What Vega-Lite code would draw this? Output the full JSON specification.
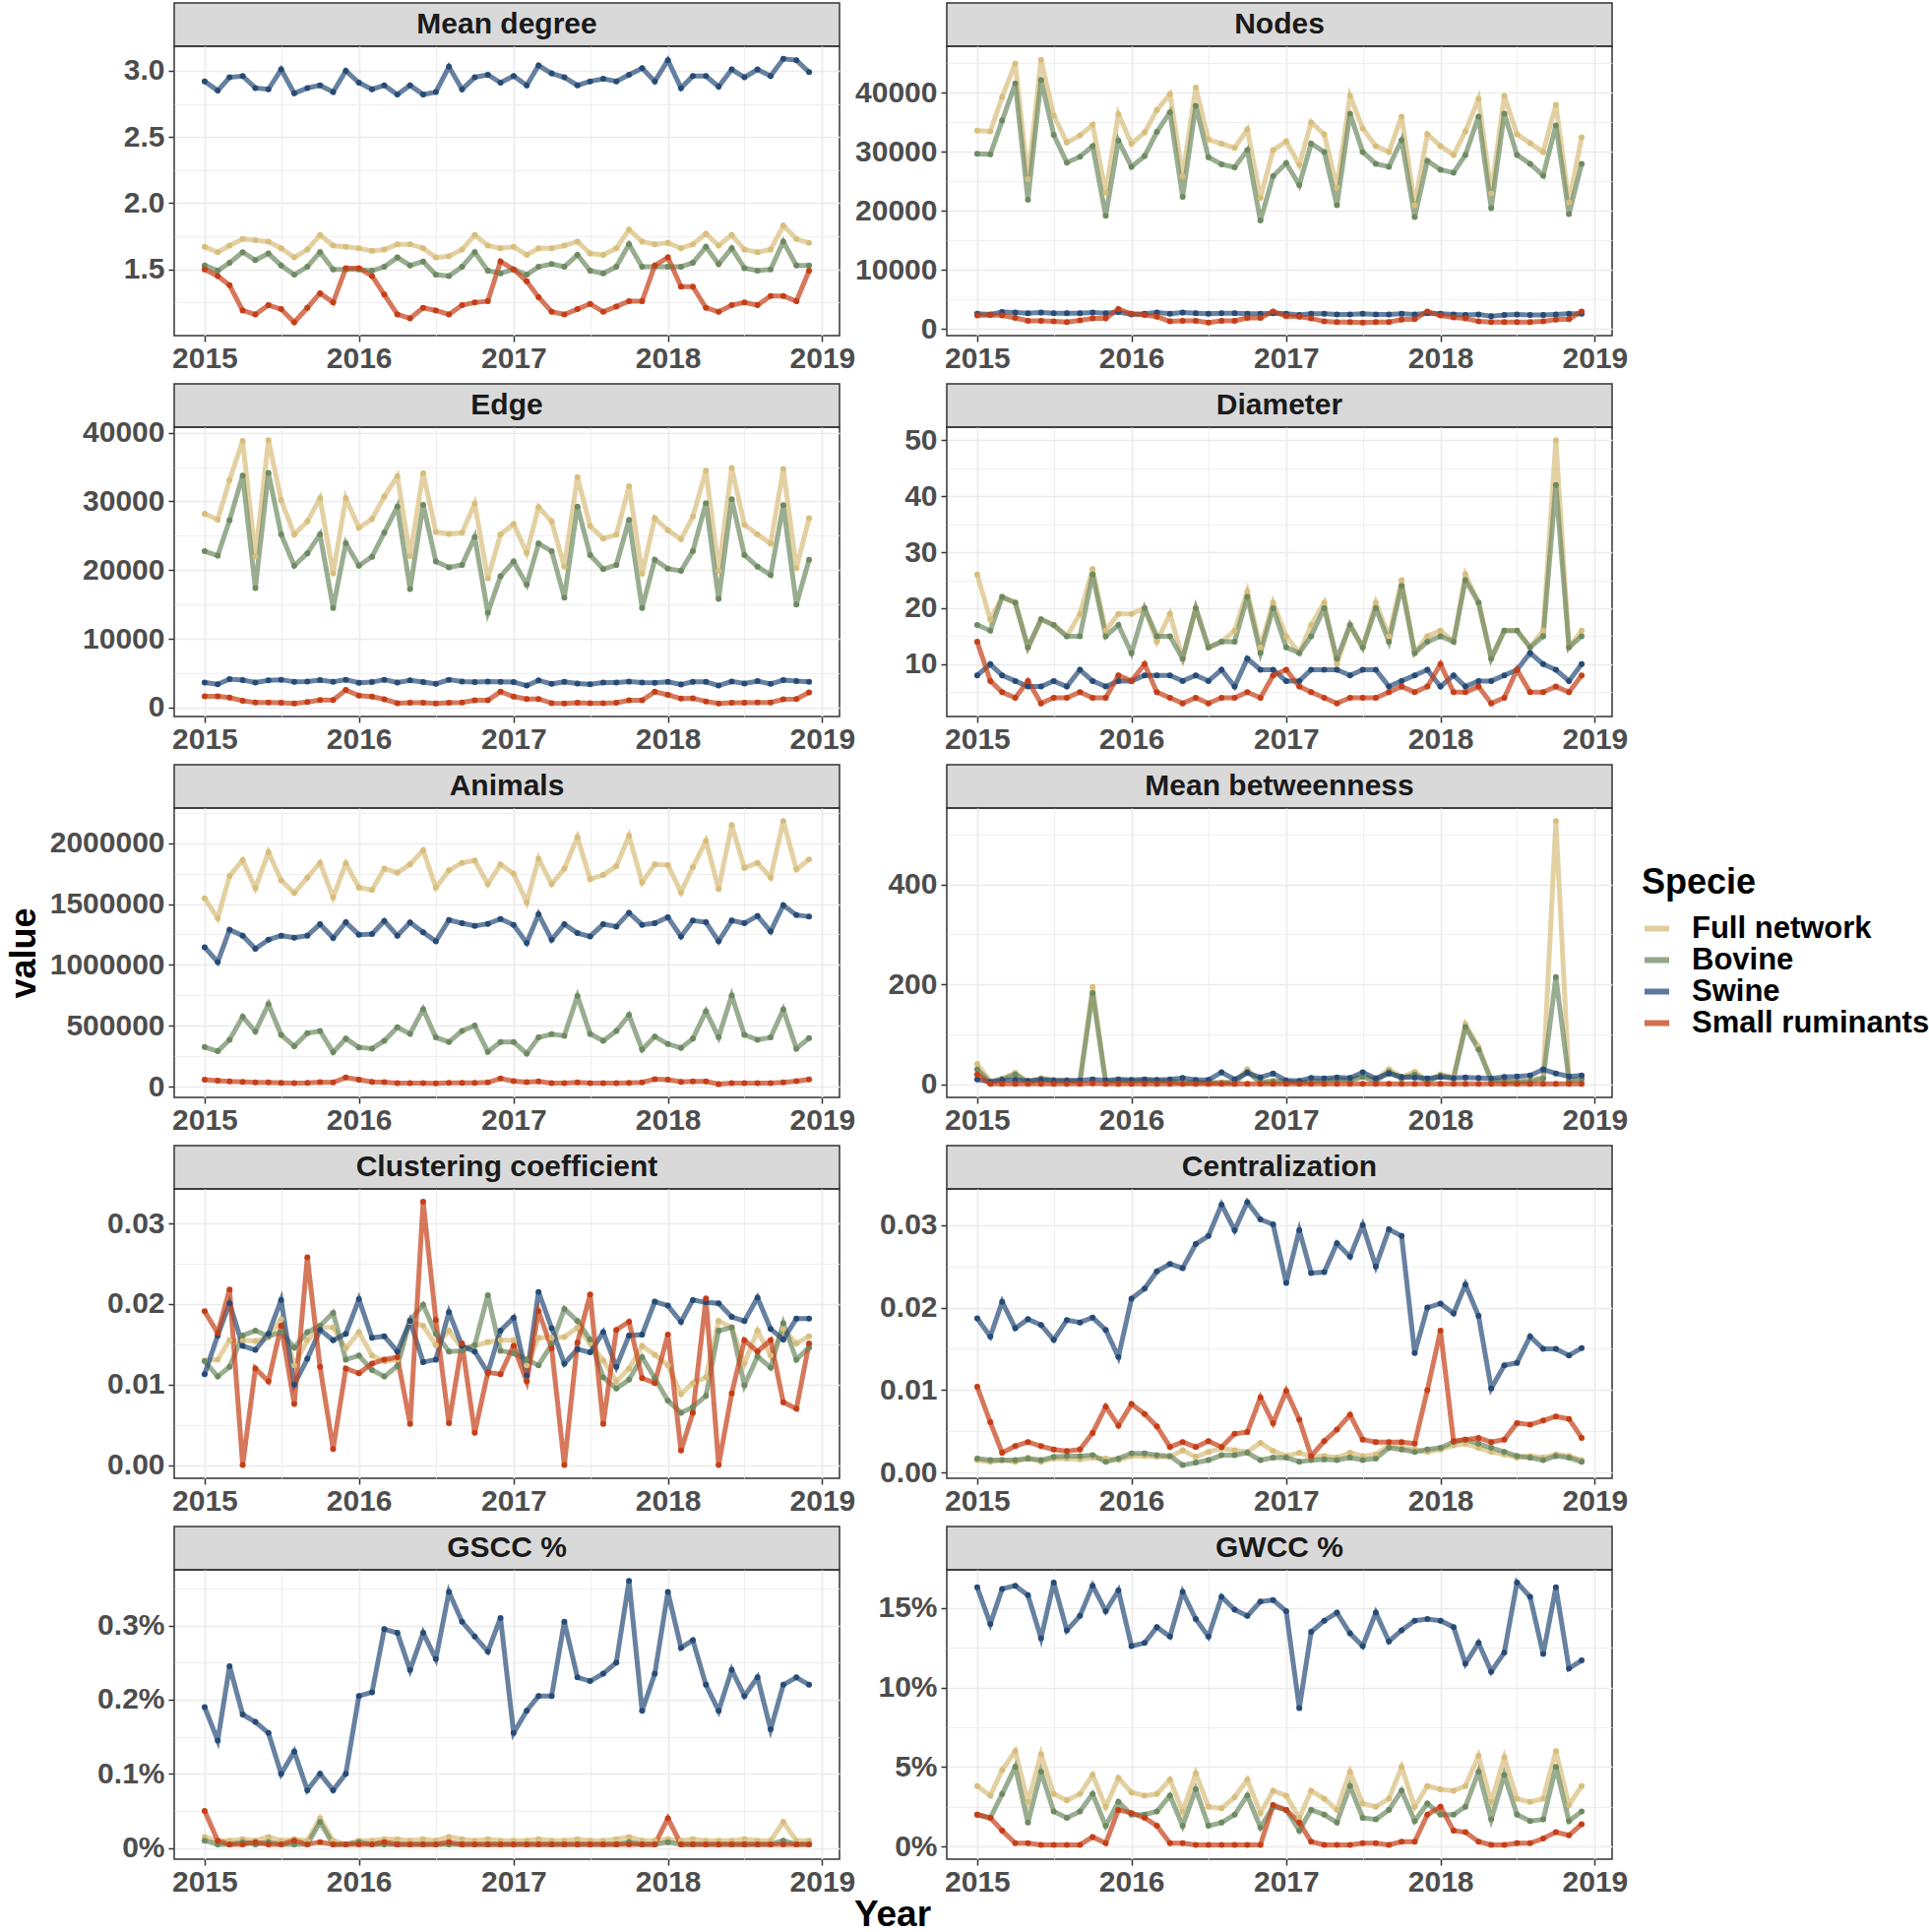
{
"$schema":"https://vega.github.io/schema/vega-lite/v6.json",
"background":"white",
"padding":{"left":5,"top":2,"right":5,"bottom":0},
"config":{
 "font":"Liberation Sans",
 "view":{"stroke":"#333333","strokeWidth":1.5},
 "axis":{"labelFont":"Liberation Sans","labelFontWeight":"bold","labelFontSize":30,"labelColor":"#4d4d4d","labelPadding":4,"labelOverlap":false,"labelFlush":false,"tickColor":"#333333","tickWidth":1.5,"tickSize":6,"domain":false,"gridColor":"#ebebeb","titleFont":"Liberation Sans","titleFontWeight":"bold","titleFontSize":36,"titleColor":"#000000"},
 "legend":{"titleFont":"Liberation Sans","titleFontSize":36,"titleFontWeight":"bold","titleColor":"#000000","labelFont":"Liberation Sans","labelFontSize":31,"labelFontWeight":"bold","labelColor":"#000000","labelLimit":400,"symbolType":"stroke","symbolStrokeWidth":6,"symbolSize":625,"symbolOpacity":0.75,"rowPadding":0,"titlePadding":12,"labelOffset":20}
},
"title":{"text":"Year","orient":"bottom","anchor":"middle","frame":"group","dx":730,"offset":0,"fontSize":37,"font":"Liberation Sans","fontWeight":"bold","color":"#000000"},
"datasets":{
"md":[
{"d":"2015-01","F":1.67,"B":1.53,"S":2.92,"R":1.50},{"d":"2015-02","F":1.63,"B":1.49,"S":2.85,"R":1.45},{"d":"2015-03","F":1.68,"B":1.55,"S":2.95,"R":1.38},{"d":"2015-04","F":1.73,"B":1.63,"S":2.96,"R":1.19},{"d":"2015-05","F":1.72,"B":1.57,"S":2.87,"R":1.16},{"d":"2015-06","F":1.71,"B":1.62,"S":2.86,"R":1.23},{"d":"2015-07","F":1.66,"B":1.53,"S":3.01,"R":1.20},{"d":"2015-08","F":1.59,"B":1.46,"S":2.83,"R":1.10},{"d":"2015-09","F":1.65,"B":1.52,"S":2.87,"R":1.21},{"d":"2015-10","F":1.76,"B":1.63,"S":2.89,"R":1.32},{"d":"2015-11","F":1.68,"B":1.50,"S":2.84,"R":1.25},{"d":"2015-12","F":1.67,"B":1.50,"S":3.00,"R":1.51},
{"d":"2016-01","F":1.66,"B":1.50,"S":2.91,"R":1.51},{"d":"2016-02","F":1.64,"B":1.49,"S":2.86,"R":1.45},{"d":"2016-03","F":1.65,"B":1.52,"S":2.89,"R":1.31},{"d":"2016-04","F":1.69,"B":1.59,"S":2.82,"R":1.16},{"d":"2016-05","F":1.69,"B":1.53,"S":2.89,"R":1.13},{"d":"2016-06","F":1.66,"B":1.56,"S":2.82,"R":1.21},{"d":"2016-07","F":1.59,"B":1.46,"S":2.84,"R":1.19},{"d":"2016-08","F":1.60,"B":1.45,"S":3.03,"R":1.16},{"d":"2016-09","F":1.65,"B":1.52,"S":2.86,"R":1.23},{"d":"2016-10","F":1.76,"B":1.63,"S":2.95,"R":1.25},{"d":"2016-11","F":1.68,"B":1.49,"S":2.97,"R":1.26},{"d":"2016-12","F":1.66,"B":1.47,"S":2.91,"R":1.56},
{"d":"2017-01","F":1.67,"B":1.50,"S":2.96,"R":1.50},{"d":"2017-02","F":1.61,"B":1.46,"S":2.89,"R":1.41},{"d":"2017-03","F":1.66,"B":1.52,"S":3.04,"R":1.29},{"d":"2017-04","F":1.66,"B":1.54,"S":2.98,"R":1.18},{"d":"2017-05","F":1.68,"B":1.52,"S":2.95,"R":1.16},{"d":"2017-06","F":1.71,"B":1.61,"S":2.89,"R":1.20},{"d":"2017-07","F":1.62,"B":1.49,"S":2.92,"R":1.24},{"d":"2017-08","F":1.61,"B":1.47,"S":2.94,"R":1.18},{"d":"2017-09","F":1.66,"B":1.52,"S":2.92,"R":1.22},{"d":"2017-10","F":1.80,"B":1.69,"S":2.97,"R":1.26},{"d":"2017-11","F":1.71,"B":1.52,"S":3.02,"R":1.26},{"d":"2017-12","F":1.69,"B":1.52,"S":2.92,"R":1.53},
{"d":"2018-01","F":1.70,"B":1.52,"S":3.08,"R":1.59},{"d":"2018-02","F":1.66,"B":1.52,"S":2.87,"R":1.37},{"d":"2018-03","F":1.69,"B":1.55,"S":2.96,"R":1.37},{"d":"2018-04","F":1.77,"B":1.67,"S":2.96,"R":1.21},{"d":"2018-05","F":1.68,"B":1.54,"S":2.88,"R":1.18},{"d":"2018-06","F":1.76,"B":1.66,"S":3.01,"R":1.23},{"d":"2018-07","F":1.65,"B":1.51,"S":2.95,"R":1.25},{"d":"2018-08","F":1.63,"B":1.49,"S":3.01,"R":1.23},{"d":"2018-09","F":1.65,"B":1.50,"S":2.96,"R":1.30},{"d":"2018-10","F":1.83,"B":1.71,"S":3.09,"R":1.30},{"d":"2018-11","F":1.73,"B":1.53,"S":3.08,"R":1.26},{"d":"2018-12","F":1.70,"B":1.53,"S":2.99,"R":1.49}
],
"nodes":[
{"d":"2015-01","F":33600,"B":29700,"S":2600,"R":2300},{"d":"2015-02","F":33500,"B":29600,"S":2500,"R":2400},{"d":"2015-03","F":39300,"B":35300,"S":2900,"R":2300},{"d":"2015-04","F":45000,"B":41600,"S":2800,"R":1900},{"d":"2015-05","F":25400,"B":21900,"S":2700,"R":1400},{"d":"2015-06","F":45600,"B":42200,"S":2800,"R":1400},{"d":"2015-07","F":36200,"B":32900,"S":2700,"R":1300},{"d":"2015-08","F":31600,"B":28200,"S":2700,"R":1200},{"d":"2015-09","F":32800,"B":29200,"S":2700,"R":1500},{"d":"2015-10","F":34600,"B":31000,"S":2800,"R":1800},{"d":"2015-11","F":23100,"B":19200,"S":2700,"R":1800},{"d":"2015-12","F":36400,"B":31900,"S":2900,"R":3400},
{"d":"2016-01","F":31400,"B":27500,"S":2500,"R":2600},{"d":"2016-02","F":33300,"B":29300,"S":2600,"R":2400},{"d":"2016-03","F":37100,"B":33400,"S":2800,"R":2100},{"d":"2016-04","F":39800,"B":36700,"S":2600,"R":1300},{"d":"2016-05","F":25900,"B":22400,"S":2800,"R":1400},{"d":"2016-06","F":40900,"B":37800,"S":2700,"R":1400},{"d":"2016-07","F":32100,"B":29100,"S":2600,"R":1100},{"d":"2016-08","F":31400,"B":27900,"S":2700,"R":1400},{"d":"2016-09","F":30700,"B":27400,"S":2700,"R":1400},{"d":"2016-10","F":33800,"B":30300,"S":2600,"R":1900},{"d":"2016-11","F":22200,"B":18400,"S":2600,"R":1900},{"d":"2016-12","F":30300,"B":25900,"S":2700,"R":3000},
{"d":"2017-01","F":31800,"B":28100,"S":2600,"R":2200},{"d":"2017-02","F":27800,"B":24400,"S":2400,"R":2100},{"d":"2017-03","F":35000,"B":31400,"S":2600,"R":1800},{"d":"2017-04","F":33000,"B":30000,"S":2600,"R":1300},{"d":"2017-05","F":24000,"B":21000,"S":2500,"R":1200},{"d":"2017-06","F":39500,"B":36500,"S":2500,"R":1200},{"d":"2017-07","F":34000,"B":30000,"S":2600,"R":1100},{"d":"2017-08","F":31000,"B":28000,"S":2500,"R":1200},{"d":"2017-09","F":30000,"B":27500,"S":2500,"R":1200},{"d":"2017-10","F":36000,"B":32000,"S":2600,"R":1600},{"d":"2017-11","F":21000,"B":19000,"S":2500,"R":1700},{"d":"2017-12","F":33000,"B":28500,"S":2700,"R":3000},
{"d":"2018-01","F":31000,"B":27000,"S":2600,"R":2300},{"d":"2018-02","F":29500,"B":26500,"S":2500,"R":2000},{"d":"2018-03","F":33500,"B":29500,"S":2400,"R":1800},{"d":"2018-04","F":39000,"B":36000,"S":2500,"R":1300},{"d":"2018-05","F":23000,"B":20500,"S":2200,"R":1200},{"d":"2018-06","F":39500,"B":36500,"S":2400,"R":1200},{"d":"2018-07","F":33000,"B":29500,"S":2500,"R":1200},{"d":"2018-08","F":31500,"B":28000,"S":2400,"R":1200},{"d":"2018-09","F":30000,"B":26000,"S":2400,"R":1300},{"d":"2018-10","F":38000,"B":34500,"S":2500,"R":1600},{"d":"2018-11","F":21500,"B":19500,"S":2600,"R":1700},{"d":"2018-12","F":32500,"B":28000,"S":2600,"R":3000}
],
"edge":[
{"d":"2015-01","F":28200,"B":22750,"S":3650,"R":1650},{"d":"2015-02","F":27350,"B":22100,"S":3400,"R":1650},{"d":"2015-03","F":33100,"B":27250,"S":4150,"R":1450},{"d":"2015-04","F":38800,"B":33750,"S":4000,"R":1000},{"d":"2015-05","F":22000,"B":17400,"S":3650,"R":750},{"d":"2015-06","F":38900,"B":34150,"S":3950,"R":750},{"d":"2015-07","F":30200,"B":25200,"S":4050,"R":700},{"d":"2015-08","F":25200,"B":20650,"S":3750,"R":600},{"d":"2015-09","F":27100,"B":22450,"S":3800,"R":800},{"d":"2015-10","F":30450,"B":25200,"S":4000,"R":1100},{"d":"2015-11","F":19500,"B":14500,"S":3750,"R":1100},{"d":"2015-12","F":30450,"B":23900,"S":4050,"R":2550},
{"d":"2016-01","F":26150,"B":20650,"S":3600,"R":1750},{"d":"2016-02","F":27450,"B":21950,"S":3700,"R":1600},{"d":"2016-03","F":30700,"B":25450,"S":4050,"R":1200},{"d":"2016-04","F":33650,"B":29250,"S":3650,"R":650},{"d":"2016-05","F":22050,"B":17250,"S":3950,"R":700},{"d":"2016-06","F":34100,"B":29500,"S":3700,"R":700},{"d":"2016-07","F":25550,"B":21250,"S":3450,"R":600},{"d":"2016-08","F":25250,"B":20400,"S":4050,"R":700},{"d":"2016-09","F":25450,"B":20750,"S":3800,"R":750},{"d":"2016-10","F":29650,"B":24800,"S":3700,"R":1050},{"d":"2016-11","F":18800,"B":13800,"S":3800,"R":1050},{"d":"2016-12","F":25200,"B":19100,"S":3750,"R":2300},
{"d":"2017-01","F":26700,"B":21250,"S":3700,"R":1600},{"d":"2017-02","F":22500,"B":17900,"S":3200,"R":1250},{"d":"2017-03","F":29150,"B":23850,"S":3950,"R":1250},{"d":"2017-04","F":27100,"B":22750,"S":3450,"R":650},{"d":"2017-05","F":20500,"B":16000,"S":3750,"R":600},{"d":"2017-06","F":33550,"B":29250,"S":3500,"R":700},{"d":"2017-07","F":26400,"B":22200,"S":3400,"R":650},{"d":"2017-08","F":24600,"B":20150,"S":3650,"R":650},{"d":"2017-09","F":25150,"B":20750,"S":3650,"R":700},{"d":"2017-10","F":32200,"B":27300,"S":3800,"R":1050},{"d":"2017-11","F":19450,"B":14500,"S":3650,"R":1050},{"d":"2017-12","F":27550,"B":21500,"S":3600,"R":2300},
{"d":"2018-01","F":25800,"B":20200,"S":3750,"R":1850},{"d":"2018-02","F":24500,"B":19900,"S":3350,"R":1300},{"d":"2018-03","F":27800,"B":22750,"S":3750,"R":1350},{"d":"2018-04","F":34450,"B":29750,"S":3750,"R":900},{"d":"2018-05","F":19900,"B":15800,"S":3200,"R":600},{"d":"2018-06","F":34850,"B":30300,"S":3800,"R":700},{"d":"2018-07","F":26600,"B":22200,"S":3500,"R":700},{"d":"2018-08","F":25200,"B":20500,"S":3850,"R":750},{"d":"2018-09","F":23850,"B":19300,"S":3450,"R":750},{"d":"2018-10","F":34700,"B":29450,"S":4000,"R":1200},{"d":"2018-11","F":20300,"B":15000,"S":3850,"R":1250},{"d":"2018-12","F":27550,"B":21500,"S":3750,"R":2200}
],
"diam":[
{"d":"2015-01","F":26,"B":17,"S":8,"R":14},{"d":"2015-02","F":18,"B":16,"S":10,"R":7},{"d":"2015-03","F":22,"B":22,"S":8,"R":5},{"d":"2015-04","F":21,"B":21,"S":7,"R":4},{"d":"2015-05","F":13,"B":13,"S":6,"R":7},{"d":"2015-06","F":18,"B":18,"S":6,"R":3},{"d":"2015-07","F":17,"B":17,"S":7,"R":4},{"d":"2015-08","F":15,"B":15,"S":6,"R":4},{"d":"2015-09","F":19,"B":15,"S":9,"R":5},{"d":"2015-10","F":27,"B":26,"S":7,"R":4},{"d":"2015-11","F":16,"B":15,"S":6,"R":4},{"d":"2015-12","F":19,"B":17,"S":7,"R":8},
{"d":"2016-01","F":19,"B":12,"S":7,"R":7},{"d":"2016-02","F":20,"B":20,"S":8,"R":10},{"d":"2016-03","F":14,"B":15,"S":8,"R":5},{"d":"2016-04","F":19,"B":15,"S":8,"R":4},{"d":"2016-05","F":11,"B":11,"S":7,"R":3},{"d":"2016-06","F":20,"B":20,"S":8,"R":4},{"d":"2016-07","F":13,"B":13,"S":7,"R":3},{"d":"2016-08","F":14,"B":14,"S":9,"R":4},{"d":"2016-09","F":16,"B":14,"S":6,"R":4},{"d":"2016-10","F":23,"B":22,"S":11,"R":5},{"d":"2016-11","F":13,"B":12,"S":9,"R":4},{"d":"2016-12","F":21,"B":20,"S":9,"R":8},
{"d":"2017-01","F":15,"B":13,"S":7,"R":9},{"d":"2017-02","F":12,"B":12,"S":7,"R":6},{"d":"2017-03","F":17,"B":15,"S":9,"R":5},{"d":"2017-04","F":21,"B":20,"S":9,"R":4},{"d":"2017-05","F":10,"B":11,"S":9,"R":3},{"d":"2017-06","F":17,"B":17,"S":8,"R":4},{"d":"2017-07","F":13,"B":13,"S":9,"R":4},{"d":"2017-08","F":21,"B":20,"S":9,"R":4},{"d":"2017-09","F":15,"B":14,"S":6,"R":5},{"d":"2017-10","F":25,"B":24,"S":7,"R":6},{"d":"2017-11","F":12,"B":12,"S":8,"R":5},{"d":"2017-12","F":15,"B":14,"S":9,"R":6},
{"d":"2018-01","F":16,"B":15,"S":6,"R":10},{"d":"2018-02","F":14,"B":14,"S":8,"R":5},{"d":"2018-03","F":26,"B":25,"S":6,"R":5},{"d":"2018-04","F":21,"B":21,"S":7,"R":6},{"d":"2018-05","F":11,"B":11,"S":7,"R":3},{"d":"2018-06","F":16,"B":16,"S":8,"R":4},{"d":"2018-07","F":16,"B":16,"S":9,"R":9},{"d":"2018-08","F":13,"B":13,"S":12,"R":5},{"d":"2018-09","F":16,"B":15,"S":10,"R":5},{"d":"2018-10","F":50,"B":42,"S":9,"R":6},{"d":"2018-11","F":13,"B":13,"S":7,"R":5},{"d":"2018-12","F":16,"B":15,"S":10,"R":8}
],
"animals":[
{"d":"2015-01","F":1547000,"B":326000,"S":1145000,"R":57000},{"d":"2015-02","F":1383000,"B":291000,"S":1024000,"R":49000},{"d":"2015-03","F":1730000,"B":385000,"S":1288000,"R":43000},{"d":"2015-04","F":1860000,"B":574000,"S":1240000,"R":40000},{"d":"2015-05","F":1631000,"B":453000,"S":1132000,"R":35000},{"d":"2015-06","F":1925000,"B":677000,"S":1207000,"R":35000},{"d":"2015-07","F":1695000,"B":426000,"S":1240000,"R":32000},{"d":"2015-08","F":1590000,"B":332000,"S":1224000,"R":30000},{"d":"2015-09","F":1717000,"B":439000,"S":1240000,"R":32000},{"d":"2015-10","F":1838000,"B":458000,"S":1334000,"R":38000},{"d":"2015-11","F":1555000,"B":283000,"S":1221000,"R":35000},{"d":"2015-12","F":1833000,"B":394000,"S":1350000,"R":75000},
{"d":"2016-01","F":1636000,"B":323000,"S":1248000,"R":57000},{"d":"2016-02","F":1615000,"B":313000,"S":1253000,"R":40000},{"d":"2016-03","F":1790000,"B":377000,"S":1361000,"R":38000},{"d":"2016-04","F":1757000,"B":488000,"S":1240000,"R":30000},{"d":"2016-05","F":1825000,"B":434000,"S":1348000,"R":30000},{"d":"2016-06","F":1941000,"B":636000,"S":1267000,"R":30000},{"d":"2016-07","F":1636000,"B":404000,"S":1194000,"R":27000},{"d":"2016-08","F":1776000,"B":367000,"S":1369000,"R":32000},{"d":"2016-09","F":1838000,"B":458000,"S":1342000,"R":32000},{"d":"2016-10","F":1857000,"B":501000,"S":1321000,"R":32000},{"d":"2016-11","F":1663000,"B":286000,"S":1337000,"R":35000},{"d":"2016-12","F":1825000,"B":367000,"S":1377000,"R":67000},
{"d":"2017-01","F":1749000,"B":367000,"S":1329000,"R":46000},{"d":"2017-02","F":1515000,"B":272000,"S":1181000,"R":38000},{"d":"2017-03","F":1871000,"B":404000,"S":1415000,"R":43000},{"d":"2017-04","F":1663000,"B":431000,"S":1207000,"R":30000},{"d":"2017-05","F":1790000,"B":418000,"S":1334000,"R":30000},{"d":"2017-06","F":2049000,"B":744000,"S":1261000,"R":35000},{"d":"2017-07","F":1704000,"B":434000,"S":1234000,"R":30000},{"d":"2017-08","F":1739000,"B":377000,"S":1334000,"R":30000},{"d":"2017-09","F":1811000,"B":458000,"S":1315000,"R":30000},{"d":"2017-10","F":2059000,"B":588000,"S":1428000,"R":32000},{"d":"2017-11","F":1677000,"B":305000,"S":1329000,"R":35000},{"d":"2017-12","F":1825000,"B":412000,"S":1342000,"R":62000},
{"d":"2018-01","F":1819000,"B":350000,"S":1391000,"R":57000},{"d":"2018-02","F":1596000,"B":318000,"S":1234000,"R":40000},{"d":"2018-03","F":1803000,"B":394000,"S":1364000,"R":43000},{"d":"2018-04","F":2019000,"B":620000,"S":1350000,"R":43000},{"d":"2018-05","F":1623000,"B":407000,"S":1194000,"R":22000},{"d":"2018-06","F":2148000,"B":749000,"S":1364000,"R":30000},{"d":"2018-07","F":1798000,"B":426000,"S":1342000,"R":30000},{"d":"2018-08","F":1838000,"B":385000,"S":1402000,"R":30000},{"d":"2018-09","F":1717000,"B":404000,"S":1275000,"R":30000},{"d":"2018-10","F":2181000,"B":633000,"S":1490000,"R":35000},{"d":"2018-11","F":1784000,"B":313000,"S":1410000,"R":46000},{"d":"2018-12","F":1865000,"B":399000,"S":1396000,"R":59000}
],
"mb":[
{"d":"2015-01","F":41,"B":30,"S":10,"R":20},{"d":"2015-02","F":5,"B":4,"S":5,"R":1},{"d":"2015-03","F":12,"B":10,"S":9,"R":1},{"d":"2015-04","F":23,"B":20,"S":9,"R":1},{"d":"2015-05","F":5,"B":4,"S":7,"R":1},{"d":"2015-06","F":13,"B":10,"S":10,"R":1},{"d":"2015-07","F":9,"B":7,"S":8,"R":1},{"d":"2015-08","F":8,"B":6,"S":8,"R":1},{"d":"2015-09","F":7,"B":6,"S":8,"R":1},{"d":"2015-10","F":195,"B":183,"S":10,"R":2},{"d":"2015-11","F":5,"B":4,"S":8,"R":1},{"d":"2015-12","F":10,"B":8,"S":10,"R":1},
{"d":"2016-01","F":7,"B":6,"S":9,"R":1},{"d":"2016-02","F":10,"B":8,"S":10,"R":1},{"d":"2016-03","F":8,"B":6,"S":9,"R":1},{"d":"2016-04","F":8,"B":7,"S":10,"R":1},{"d":"2016-05","F":3,"B":2,"S":13,"R":1},{"d":"2016-06","F":5,"B":4,"S":9,"R":1},{"d":"2016-07","F":4,"B":3,"S":9,"R":1},{"d":"2016-08","F":4,"B":3,"S":24,"R":1},{"d":"2016-09","F":5,"B":4,"S":10,"R":1},{"d":"2016-10","F":30,"B":25,"S":23,"R":1},{"d":"2016-11","F":5,"B":4,"S":14,"R":1},{"d":"2016-12","F":7,"B":6,"S":22,"R":1},
{"d":"2017-01","F":8,"B":6,"S":8,"R":1},{"d":"2017-02","F":4,"B":3,"S":7,"R":1},{"d":"2017-03","F":7,"B":6,"S":13,"R":1},{"d":"2017-04","F":8,"B":7,"S":12,"R":1},{"d":"2017-05","F":12,"B":10,"S":14,"R":1},{"d":"2017-06","F":10,"B":8,"S":13,"R":1},{"d":"2017-07","F":18,"B":15,"S":24,"R":1},{"d":"2017-08","F":9,"B":7,"S":12,"R":1},{"d":"2017-09","F":30,"B":25,"S":22,"R":1},{"d":"2017-10","F":15,"B":12,"S":15,"R":1},{"d":"2017-11","F":25,"B":20,"S":14,"R":1},{"d":"2017-12","F":8,"B":6,"S":12,"R":1},
{"d":"2018-01","F":20,"B":18,"S":15,"R":1},{"d":"2018-02","F":15,"B":12,"S":13,"R":1},{"d":"2018-03","F":120,"B":115,"S":14,"R":1},{"d":"2018-04","F":75,"B":70,"S":13,"R":1},{"d":"2018-05","F":10,"B":8,"S":12,"R":1},{"d":"2018-06","F":8,"B":6,"S":15,"R":1},{"d":"2018-07","F":6,"B":5,"S":16,"R":1},{"d":"2018-08","F":8,"B":6,"S":18,"R":1},{"d":"2018-09","F":15,"B":12,"S":30,"R":1},{"d":"2018-10","F":527,"B":215,"S":22,"R":1},{"d":"2018-11","F":10,"B":8,"S":16,"R":1},{"d":"2018-12","F":12,"B":10,"S":18,"R":1}
],
"cc":[
{"d":"2015-01","F":0.0130,"B":0.0129,"S":0.0113,"R":0.0191},{"d":"2015-02","F":0.0131,"B":0.0110,"S":0.0161,"R":0.0164},{"d":"2015-03","F":0.0155,"B":0.0122,"S":0.0201,"R":0.0218},{"d":"2015-04","F":0.0155,"B":0.0161,"S":0.0148,"R":0.0000},{"d":"2015-05","F":0.0154,"B":0.0167,"S":0.0143,"R":0.0120},{"d":"2015-06","F":0.0159,"B":0.0160,"S":0.0163,"R":0.0104},{"d":"2015-07","F":0.0181,"B":0.0165,"S":0.0205,"R":0.0173},{"d":"2015-08","F":0.0124,"B":0.0146,"S":0.0100,"R":0.0076},{"d":"2015-09","F":0.0155,"B":0.0165,"S":0.0132,"R":0.0258},{"d":"2015-10","F":0.0171,"B":0.0173,"S":0.0168,"R":0.0122},{"d":"2015-11","F":0.0171,"B":0.0189,"S":0.0155,"R":0.0020},{"d":"2015-12","F":0.0145,"B":0.0131,"S":0.0163,"R":0.0120},
{"d":"2016-01","F":0.0165,"B":0.0136,"S":0.0206,"R":0.0114},{"d":"2016-02","F":0.0136,"B":0.0118,"S":0.0158,"R":0.0126},{"d":"2016-03","F":0.0129,"B":0.0110,"S":0.0160,"R":0.0131},{"d":"2016-04","F":0.0131,"B":0.0123,"S":0.0141,"R":0.0134},{"d":"2016-05","F":0.0178,"B":0.0180,"S":0.0179,"R":0.0051},{"d":"2016-06","F":0.0173,"B":0.0199,"S":0.0128,"R":0.0327},{"d":"2016-07","F":0.0149,"B":0.0163,"S":0.0131,"R":0.0180},{"d":"2016-08","F":0.0167,"B":0.0141,"S":0.0190,"R":0.0052},{"d":"2016-09","F":0.0145,"B":0.0142,"S":0.0148,"R":0.0151},{"d":"2016-10","F":0.0148,"B":0.0149,"S":0.0141,"R":0.0040},{"d":"2016-11","F":0.0153,"B":0.0211,"S":0.0115,"R":0.0115},{"d":"2016-12","F":0.0155,"B":0.0142,"S":0.0167,"R":0.0113},
{"d":"2017-01","F":0.0155,"B":0.0139,"S":0.0183,"R":0.0148},{"d":"2017-02","F":0.0124,"B":0.0131,"S":0.0111,"R":0.0104},{"d":"2017-03","F":0.0158,"B":0.0124,"S":0.0215,"R":0.0191},{"d":"2017-04","F":0.0158,"B":0.0150,"S":0.0170,"R":0.0145},{"d":"2017-05","F":0.0159,"B":0.0194,"S":0.0126,"R":0.0000},{"d":"2017-06","F":0.0171,"B":0.0179,"S":0.0144,"R":0.0152},{"d":"2017-07","F":0.0151,"B":0.0156,"S":0.0140,"R":0.0212},{"d":"2017-08","F":0.0130,"B":0.0109,"S":0.0165,"R":0.0051},{"d":"2017-09","F":0.0104,"B":0.0095,"S":0.0122,"R":0.0168},{"d":"2017-10","F":0.0120,"B":0.0106,"S":0.0161,"R":0.0178},{"d":"2017-11","F":0.0148,"B":0.0134,"S":0.0162,"R":0.0108},{"d":"2017-12","F":0.0137,"B":0.0108,"S":0.0203,"R":0.0102},
{"d":"2018-01","F":0.0124,"B":0.0080,"S":0.0198,"R":0.0162},{"d":"2018-02","F":0.0088,"B":0.0065,"S":0.0178,"R":0.0018},{"d":"2018-03","F":0.0102,"B":0.0072,"S":0.0205,"R":0.0065},{"d":"2018-04","F":0.0109,"B":0.0086,"S":0.0202,"R":0.0207},{"d":"2018-05","F":0.0179,"B":0.0167,"S":0.0201,"R":0.0000},{"d":"2018-06","F":0.0171,"B":0.0171,"S":0.0184,"R":0.0089},{"d":"2018-07","F":0.0126,"B":0.0099,"S":0.0179,"R":0.0155},{"d":"2018-08","F":0.0167,"B":0.0135,"S":0.0208,"R":0.0141},{"d":"2018-09","F":0.0136,"B":0.0121,"S":0.0169,"R":0.0155},{"d":"2018-10","F":0.0169,"B":0.0176,"S":0.0156,"R":0.0078},{"d":"2018-11","F":0.0151,"B":0.0131,"S":0.0182,"R":0.0070},{"d":"2018-12","F":0.0160,"B":0.0146,"S":0.0182,"R":0.0151}
],
"cent":[
{"d":"2015-01","F":0.0015,"B":0.0017,"S":0.0187,"R":0.0104},{"d":"2015-02","F":0.0013,"B":0.0015,"S":0.0165,"R":0.0061},{"d":"2015-03","F":0.0015,"B":0.0015,"S":0.0207,"R":0.0024},{"d":"2015-04","F":0.0013,"B":0.0015,"S":0.0175,"R":0.0032},{"d":"2015-05","F":0.0018,"B":0.0017,"S":0.0186,"R":0.0037},{"d":"2015-06","F":0.0013,"B":0.0015,"S":0.0179,"R":0.0032},{"d":"2015-07","F":0.0017,"B":0.0019,"S":0.0161,"R":0.0028},{"d":"2015-08","F":0.0017,"B":0.0020,"S":0.0185,"R":0.0026},{"d":"2015-09","F":0.0016,"B":0.0020,"S":0.0182,"R":0.0028},{"d":"2015-10","F":0.0018,"B":0.0021,"S":0.0188,"R":0.0048},{"d":"2015-11","F":0.0017,"B":0.0013,"S":0.0173,"R":0.0080},{"d":"2015-12","F":0.0015,"B":0.0017,"S":0.0140,"R":0.0057},
{"d":"2016-01","F":0.0020,"B":0.0023,"S":0.0211,"R":0.0083},{"d":"2016-02","F":0.0020,"B":0.0023,"S":0.0223,"R":0.0071},{"d":"2016-03","F":0.0019,"B":0.0021,"S":0.0244,"R":0.0056},{"d":"2016-04","F":0.0019,"B":0.0020,"S":0.0253,"R":0.0031},{"d":"2016-05","F":0.0027,"B":0.0009,"S":0.0248,"R":0.0037},{"d":"2016-06","F":0.0019,"B":0.0012,"S":0.0277,"R":0.0031},{"d":"2016-07","F":0.0025,"B":0.0015,"S":0.0287,"R":0.0038},{"d":"2016-08","F":0.0029,"B":0.0021,"S":0.0325,"R":0.0031},{"d":"2016-09","F":0.0027,"B":0.0021,"S":0.0294,"R":0.0047},{"d":"2016-10","F":0.0025,"B":0.0024,"S":0.0328,"R":0.0049},{"d":"2016-11","F":0.0036,"B":0.0015,"S":0.0307,"R":0.0091},{"d":"2016-12","F":0.0026,"B":0.0018,"S":0.0301,"R":0.0060},
{"d":"2017-01","F":0.0020,"B":0.0018,"S":0.0230,"R":0.0099},{"d":"2017-02","F":0.0024,"B":0.0013,"S":0.0294,"R":0.0064},{"d":"2017-03","F":0.0019,"B":0.0015,"S":0.0242,"R":0.0020},{"d":"2017-04","F":0.0020,"B":0.0016,"S":0.0243,"R":0.0038},{"d":"2017-05","F":0.0018,"B":0.0015,"S":0.0278,"R":0.0052},{"d":"2017-06","F":0.0024,"B":0.0018,"S":0.0262,"R":0.0070},{"d":"2017-07","F":0.0020,"B":0.0015,"S":0.0300,"R":0.0040},{"d":"2017-08","F":0.0022,"B":0.0017,"S":0.0250,"R":0.0037},{"d":"2017-09","F":0.0033,"B":0.0030,"S":0.0295,"R":0.0037},{"d":"2017-10","F":0.0030,"B":0.0028,"S":0.0287,"R":0.0037},{"d":"2017-11","F":0.0028,"B":0.0025,"S":0.0145,"R":0.0035},{"d":"2017-12","F":0.0025,"B":0.0028,"S":0.0200,"R":0.0100},
{"d":"2018-01","F":0.0028,"B":0.0030,"S":0.0205,"R":0.0172},{"d":"2018-02","F":0.0033,"B":0.0037,"S":0.0193,"R":0.0038},{"d":"2018-03","F":0.0035,"B":0.0040,"S":0.0228,"R":0.0040},{"d":"2018-04","F":0.0030,"B":0.0035,"S":0.0190,"R":0.0042},{"d":"2018-05","F":0.0025,"B":0.0030,"S":0.0102,"R":0.0037},{"d":"2018-06","F":0.0022,"B":0.0025,"S":0.0130,"R":0.0040},{"d":"2018-07","F":0.0018,"B":0.0020,"S":0.0133,"R":0.0060},{"d":"2018-08","F":0.0020,"B":0.0018,"S":0.0165,"R":0.0058},{"d":"2018-09","F":0.0018,"B":0.0015,"S":0.0150,"R":0.0063},{"d":"2018-10","F":0.0022,"B":0.0020,"S":0.0150,"R":0.0068},{"d":"2018-11","F":0.0020,"B":0.0018,"S":0.0142,"R":0.0065},{"d":"2018-12","F":0.0015,"B":0.0013,"S":0.0151,"R":0.0042}
],
"gscc":[
{"d":"2015-01","F":0.015,"B":0.010,"S":0.190,"R":0.050},{"d":"2015-02","F":0.010,"B":0.005,"S":0.145,"R":0.010},{"d":"2015-03","F":0.010,"B":0.005,"S":0.245,"R":0.005},{"d":"2015-04","F":0.012,"B":0.008,"S":0.180,"R":0.005},{"d":"2015-05","F":0.010,"B":0.005,"S":0.170,"R":0.008},{"d":"2015-06","F":0.015,"B":0.008,"S":0.155,"R":0.005},{"d":"2015-07","F":0.010,"B":0.005,"S":0.100,"R":0.005},{"d":"2015-08","F":0.012,"B":0.005,"S":0.130,"R":0.010},{"d":"2015-09","F":0.010,"B":0.005,"S":0.078,"R":0.005},{"d":"2015-10","F":0.040,"B":0.035,"S":0.100,"R":0.008},{"d":"2015-11","F":0.010,"B":0.005,"S":0.078,"R":0.005},{"d":"2015-12","F":0.005,"B":0.005,"S":0.100,"R":0.005},
{"d":"2016-01","F":0.010,"B":0.008,"S":0.205,"R":0.005},{"d":"2016-02","F":0.010,"B":0.005,"S":0.210,"R":0.005},{"d":"2016-03","F":0.012,"B":0.005,"S":0.295,"R":0.008},{"d":"2016-04","F":0.012,"B":0.005,"S":0.290,"R":0.005},{"d":"2016-05","F":0.010,"B":0.005,"S":0.240,"R":0.005},{"d":"2016-06","F":0.012,"B":0.005,"S":0.290,"R":0.005},{"d":"2016-07","F":0.010,"B":0.005,"S":0.255,"R":0.005},{"d":"2016-08","F":0.015,"B":0.005,"S":0.345,"R":0.008},{"d":"2016-09","F":0.012,"B":0.005,"S":0.305,"R":0.005},{"d":"2016-10","F":0.010,"B":0.005,"S":0.285,"R":0.005},{"d":"2016-11","F":0.012,"B":0.005,"S":0.265,"R":0.005},{"d":"2016-12","F":0.010,"B":0.005,"S":0.310,"R":0.005},
{"d":"2017-01","F":0.010,"B":0.005,"S":0.155,"R":0.005},{"d":"2017-02","F":0.010,"B":0.005,"S":0.185,"R":0.005},{"d":"2017-03","F":0.012,"B":0.005,"S":0.205,"R":0.005},{"d":"2017-04","F":0.010,"B":0.005,"S":0.205,"R":0.005},{"d":"2017-05","F":0.010,"B":0.005,"S":0.305,"R":0.005},{"d":"2017-06","F":0.012,"B":0.005,"S":0.230,"R":0.005},{"d":"2017-07","F":0.010,"B":0.005,"S":0.225,"R":0.005},{"d":"2017-08","F":0.010,"B":0.005,"S":0.235,"R":0.005},{"d":"2017-09","F":0.012,"B":0.005,"S":0.250,"R":0.005},{"d":"2017-10","F":0.015,"B":0.008,"S":0.360,"R":0.005},{"d":"2017-11","F":0.010,"B":0.005,"S":0.185,"R":0.005},{"d":"2017-12","F":0.010,"B":0.005,"S":0.235,"R":0.005},
{"d":"2018-01","F":0.012,"B":0.008,"S":0.345,"R":0.040},{"d":"2018-02","F":0.010,"B":0.005,"S":0.270,"R":0.005},{"d":"2018-03","F":0.012,"B":0.005,"S":0.280,"R":0.005},{"d":"2018-04","F":0.010,"B":0.005,"S":0.220,"R":0.005},{"d":"2018-05","F":0.010,"B":0.005,"S":0.185,"R":0.005},{"d":"2018-06","F":0.010,"B":0.005,"S":0.240,"R":0.005},{"d":"2018-07","F":0.012,"B":0.005,"S":0.205,"R":0.005},{"d":"2018-08","F":0.010,"B":0.005,"S":0.230,"R":0.005},{"d":"2018-09","F":0.010,"B":0.005,"S":0.160,"R":0.005},{"d":"2018-10","F":0.035,"B":0.010,"S":0.220,"R":0.005},{"d":"2018-11","F":0.010,"B":0.005,"S":0.230,"R":0.005},{"d":"2018-12","F":0.010,"B":0.005,"S":0.220,"R":0.005}
],
"gwcc":[
{"d":"2015-01","F":3.8,"B":2.0,"S":16.3,"R":2.0},{"d":"2015-02","F":3.2,"B":1.8,"S":14.0,"R":1.8},{"d":"2015-03","F":4.8,"B":3.3,"S":16.2,"R":1.0},{"d":"2015-04","F":6.0,"B":5.0,"S":16.4,"R":0.2},{"d":"2015-05","F":2.8,"B":1.5,"S":15.8,"R":0.2},{"d":"2015-06","F":5.8,"B":4.7,"S":13.1,"R":0.1},{"d":"2015-07","F":3.3,"B":2.2,"S":16.6,"R":0.1},{"d":"2015-08","F":2.9,"B":1.8,"S":13.6,"R":0.1},{"d":"2015-09","F":3.3,"B":2.2,"S":14.5,"R":0.1},{"d":"2015-10","F":4.5,"B":3.3,"S":16.4,"R":0.6},{"d":"2015-11","F":2.5,"B":1.3,"S":14.8,"R":0.2},{"d":"2015-12","F":4.3,"B":2.8,"S":16.1,"R":2.3},
{"d":"2016-01","F":3.4,"B":2.0,"S":12.6,"R":2.1},{"d":"2016-02","F":3.2,"B":2.0,"S":12.8,"R":1.8},{"d":"2016-03","F":3.3,"B":2.2,"S":13.8,"R":1.3},{"d":"2016-04","F":4.2,"B":3.2,"S":13.2,"R":0.2},{"d":"2016-05","F":2.2,"B":1.3,"S":16.0,"R":0.2},{"d":"2016-06","F":4.6,"B":3.6,"S":14.3,"R":0.1},{"d":"2016-07","F":2.5,"B":1.3,"S":13.2,"R":0.1},{"d":"2016-08","F":2.4,"B":1.5,"S":15.7,"R":0.1},{"d":"2016-09","F":3.1,"B":2.0,"S":14.9,"R":0.1},{"d":"2016-10","F":4.2,"B":3.2,"S":14.5,"R":0.1},{"d":"2016-11","F":2.1,"B":1.2,"S":15.4,"R":0.1},{"d":"2016-12","F":3.5,"B":2.5,"S":15.5,"R":2.6},
{"d":"2017-01","F":3.2,"B":2.3,"S":14.8,"R":2.3},{"d":"2017-02","F":1.8,"B":1.0,"S":8.7,"R":1.5},{"d":"2017-03","F":3.5,"B":2.3,"S":13.5,"R":0.3},{"d":"2017-04","F":3.0,"B":2.0,"S":14.2,"R":0.1},{"d":"2017-05","F":2.3,"B":1.5,"S":14.7,"R":0.1},{"d":"2017-06","F":4.7,"B":3.8,"S":13.4,"R":0.1},{"d":"2017-07","F":2.7,"B":1.8,"S":12.6,"R":0.2},{"d":"2017-08","F":2.5,"B":1.7,"S":14.7,"R":0.2},{"d":"2017-09","F":3.0,"B":2.3,"S":12.9,"R":0.1},{"d":"2017-10","F":5.0,"B":3.5,"S":13.6,"R":0.3},{"d":"2017-11","F":2.5,"B":1.6,"S":14.2,"R":0.3},{"d":"2017-12","F":3.8,"B":2.7,"S":14.3,"R":2.0},
{"d":"2018-01","F":3.6,"B":2.0,"S":14.2,"R":2.5},{"d":"2018-02","F":3.5,"B":2.0,"S":13.8,"R":1.0},{"d":"2018-03","F":3.8,"B":2.5,"S":11.5,"R":0.9},{"d":"2018-04","F":5.7,"B":4.7,"S":12.8,"R":0.3},{"d":"2018-05","F":2.8,"B":1.7,"S":11.0,"R":0.1},{"d":"2018-06","F":5.6,"B":4.5,"S":12.2,"R":0.1},{"d":"2018-07","F":3.0,"B":2.0,"S":16.6,"R":0.2},{"d":"2018-08","F":2.8,"B":1.6,"S":15.7,"R":0.2},{"d":"2018-09","F":3.0,"B":1.7,"S":12.1,"R":0.5},{"d":"2018-10","F":6.0,"B":5.0,"S":16.3,"R":0.9},{"d":"2018-11","F":2.6,"B":1.6,"S":11.2,"R":0.7},{"d":"2018-12","F":3.8,"B":2.2,"S":11.7,"R":1.4}
]
},
"columns":2,
"spacing":{"row":9,"column":-3},
"concat":[
 {"vconcat":[
  {"data":{"values":[{"t":"Mean degree"}]},"width":676,"height":44,"view":{"fill":"#d9d9d9","stroke":"#333333","strokeWidth":1.5},"mark":{"type":"text","fontSize":30,"fontWeight":"bold","font":"Liberation Sans","color":"#1a1a1a"},"encoding":{"text":{"field":"t"}}},
  {"data":{"name":"md"},"transform":[{"fold":["F","B","S","R"],"as":["k","v"]}],"width":676,"height":294,
   "encoding":{
    "x":{"field":"d","type":"temporal","title":null,"scale":{"type":"utc","domain":[{"year":2014,"month":10,"date":21,"utc":true},{"year":2019,"month":2,"date":11,"utc":true}]},"axis":{"values":[{"year":2015,"month":1,"date":1,"utc":true},{"year":2015,"month":7,"date":1,"utc":true},{"year":2016,"month":1,"date":1,"utc":true},{"year":2016,"month":7,"date":1,"utc":true},{"year":2017,"month":1,"date":1,"utc":true},{"year":2017,"month":7,"date":1,"utc":true},{"year":2018,"month":1,"date":1,"utc":true},{"year":2018,"month":7,"date":1,"utc":true},{"year":2019,"month":1,"date":1,"utc":true}],"labelExpr":"utcmonth(datum.value)==0 ? utcFormat(datum.value,'%Y') : ''","gridWidth":{"condition":{"test":"utcmonth(datum.value)==0","value":1.6},"value":0.8},"tickOpacity":{"condition":{"test":"utcmonth(datum.value)==0","value":1},"value":0},"labelPadding":2}},
    "y":{"field":"v","type":"quantitative","title":null,"scale":{"domain":[1.0,3.185],"nice":false,"zero":false},"axis":{"values":[1.25,1.5,1.75,2,2.25,2.5,2.75,3],"labelExpr":"abs(datum.value*2-round(datum.value*2))<1e-6 ? format(datum.value,'.1f') : ''","gridWidth":{"condition":{"test":"abs(datum.value*2-round(datum.value*2))<1e-6","value":1.6},"value":0.8},"tickOpacity":{"condition":{"test":"abs(datum.value*2-round(datum.value*2))<1e-6","value":1},"value":0}}},
    "color":{"field":"k","type":"nominal","scale":{"domain":["F","B","S","R"],"range":["#D8BE7C","#6E8A62","#274B77","#C53E17"]},"legend":{"title":"Specie","orient":"none","legendX":1491,"legendY":877,"labelExpr":"datum.label=='F' ? 'Full network' : datum.label=='B' ? 'Bovine' : datum.label=='S' ? 'Swine' : 'Small ruminants'"}}
   },
   "layer":[{"mark":{"type":"line","strokeWidth":5,"opacity":0.7}},{"mark":{"type":"circle","size":36,"opacity":1}}]}
 ],"spacing":0,"bounds":"flush"},
 {"vconcat":[
  {"data":{"values":[{"t":"Nodes"}]},"width":676,"height":44,"view":{"fill":"#d9d9d9","stroke":"#333333","strokeWidth":1.5},"mark":{"type":"text","fontSize":30,"fontWeight":"bold","font":"Liberation Sans","color":"#1a1a1a"},"encoding":{"text":{"field":"t"}}},
  {"data":{"name":"nodes"},"transform":[{"fold":["F","B","S","R"],"as":["k","v"]}],"width":676,"height":294,
   "encoding":{
    "x":{"field":"d","type":"temporal","title":null,"scale":{"type":"utc","domain":[{"year":2014,"month":10,"date":21,"utc":true},{"year":2019,"month":2,"date":11,"utc":true}]},"axis":{"values":[{"year":2015,"month":1,"date":1,"utc":true},{"year":2015,"month":7,"date":1,"utc":true},{"year":2016,"month":1,"date":1,"utc":true},{"year":2016,"month":7,"date":1,"utc":true},{"year":2017,"month":1,"date":1,"utc":true},{"year":2017,"month":7,"date":1,"utc":true},{"year":2018,"month":1,"date":1,"utc":true},{"year":2018,"month":7,"date":1,"utc":true},{"year":2019,"month":1,"date":1,"utc":true}],"labelExpr":"utcmonth(datum.value)==0 ? utcFormat(datum.value,'%Y') : ''","gridWidth":{"condition":{"test":"utcmonth(datum.value)==0","value":1.6},"value":0.8},"tickOpacity":{"condition":{"test":"utcmonth(datum.value)==0","value":1},"value":0},"labelPadding":2}},
    "y":{"field":"v","type":"quantitative","title":null,"scale":{"domain":[-1100,47900],"nice":false,"zero":false},"axis":{"values":[0,5000,10000,15000,20000,25000,30000,35000,40000,45000],"labelExpr":"datum.value % 10000 == 0 ? format(datum.value,'d') : ''","gridWidth":{"condition":{"test":"datum.value % 10000 == 0","value":1.6},"value":0.8},"tickOpacity":{"condition":{"test":"datum.value % 10000 == 0","value":1},"value":0}}},
    "color":{"field":"k","type":"nominal","scale":{"domain":["F","B","S","R"],"range":["#D8BE7C","#6E8A62","#274B77","#C53E17"]},"legend":{"title":"Specie","orient":"none","legendX":1491,"legendY":877,"labelExpr":"datum.label=='F' ? 'Full network' : datum.label=='B' ? 'Bovine' : datum.label=='S' ? 'Swine' : 'Small ruminants'"}}
   },
   "layer":[{"mark":{"type":"line","strokeWidth":5,"opacity":0.7}},{"mark":{"type":"circle","size":36,"opacity":1}}]}
 ],"spacing":0,"bounds":"flush"},
 {"vconcat":[
  {"data":{"values":[{"t":"Edge"}]},"width":676,"height":44,"view":{"fill":"#d9d9d9","stroke":"#333333","strokeWidth":1.5},"mark":{"type":"text","fontSize":30,"fontWeight":"bold","font":"Liberation Sans","color":"#1a1a1a"},"encoding":{"text":{"field":"t"}}},
  {"data":{"name":"edge"},"transform":[{"fold":["F","B","S","R"],"as":["k","v"]}],"width":676,"height":294,
   "encoding":{
    "x":{"field":"d","type":"temporal","title":null,"scale":{"type":"utc","domain":[{"year":2014,"month":10,"date":21,"utc":true},{"year":2019,"month":2,"date":11,"utc":true}]},"axis":{"values":[{"year":2015,"month":1,"date":1,"utc":true},{"year":2015,"month":7,"date":1,"utc":true},{"year":2016,"month":1,"date":1,"utc":true},{"year":2016,"month":7,"date":1,"utc":true},{"year":2017,"month":1,"date":1,"utc":true},{"year":2017,"month":7,"date":1,"utc":true},{"year":2018,"month":1,"date":1,"utc":true},{"year":2018,"month":7,"date":1,"utc":true},{"year":2019,"month":1,"date":1,"utc":true}],"labelExpr":"utcmonth(datum.value)==0 ? utcFormat(datum.value,'%Y') : ''","gridWidth":{"condition":{"test":"utcmonth(datum.value)==0","value":1.6},"value":0.8},"tickOpacity":{"condition":{"test":"utcmonth(datum.value)==0","value":1},"value":0},"labelPadding":2}},
    "y":{"field":"v","type":"quantitative","title":null,"scale":{"domain":[-1300,40800],"nice":false,"zero":false},"axis":{"values":[0,5000,10000,15000,20000,25000,30000,35000,40000],"labelExpr":"datum.value % 10000 == 0 ? format(datum.value,'d') : ''","gridWidth":{"condition":{"test":"datum.value % 10000 == 0","value":1.6},"value":0.8},"tickOpacity":{"condition":{"test":"datum.value % 10000 == 0","value":1},"value":0}}},
    "color":{"field":"k","type":"nominal","scale":{"domain":["F","B","S","R"],"range":["#D8BE7C","#6E8A62","#274B77","#C53E17"]},"legend":{"title":"Specie","orient":"none","legendX":1491,"legendY":877,"labelExpr":"datum.label=='F' ? 'Full network' : datum.label=='B' ? 'Bovine' : datum.label=='S' ? 'Swine' : 'Small ruminants'"}}
   },
   "layer":[{"mark":{"type":"line","strokeWidth":5,"opacity":0.7}},{"mark":{"type":"circle","size":36,"opacity":1}}]}
 ],"spacing":0,"bounds":"flush"},
 {"vconcat":[
  {"data":{"values":[{"t":"Diameter"}]},"width":676,"height":44,"view":{"fill":"#d9d9d9","stroke":"#333333","strokeWidth":1.5},"mark":{"type":"text","fontSize":30,"fontWeight":"bold","font":"Liberation Sans","color":"#1a1a1a"},"encoding":{"text":{"field":"t"}}},
  {"data":{"name":"diam"},"transform":[{"fold":["F","B","S","R"],"as":["k","v"]}],"width":676,"height":294,
   "encoding":{
    "x":{"field":"d","type":"temporal","title":null,"scale":{"type":"utc","domain":[{"year":2014,"month":10,"date":21,"utc":true},{"year":2019,"month":2,"date":11,"utc":true}]},"axis":{"values":[{"year":2015,"month":1,"date":1,"utc":true},{"year":2015,"month":7,"date":1,"utc":true},{"year":2016,"month":1,"date":1,"utc":true},{"year":2016,"month":7,"date":1,"utc":true},{"year":2017,"month":1,"date":1,"utc":true},{"year":2017,"month":7,"date":1,"utc":true},{"year":2018,"month":1,"date":1,"utc":true},{"year":2018,"month":7,"date":1,"utc":true},{"year":2019,"month":1,"date":1,"utc":true}],"labelExpr":"utcmonth(datum.value)==0 ? utcFormat(datum.value,'%Y') : ''","gridWidth":{"condition":{"test":"utcmonth(datum.value)==0","value":1.6},"value":0.8},"tickOpacity":{"condition":{"test":"utcmonth(datum.value)==0","value":1},"value":0},"labelPadding":2}},
    "y":{"field":"v","type":"quantitative","title":null,"scale":{"domain":[0.65,52.35],"nice":false,"zero":false},"axis":{"values":[5,10,15,20,25,30,35,40,45,50],"labelExpr":"datum.value % 10 == 0 ? format(datum.value,'d') : ''","gridWidth":{"condition":{"test":"datum.value % 10 == 0","value":1.6},"value":0.8},"tickOpacity":{"condition":{"test":"datum.value % 10 == 0","value":1},"value":0}}},
    "color":{"field":"k","type":"nominal","scale":{"domain":["F","B","S","R"],"range":["#D8BE7C","#6E8A62","#274B77","#C53E17"]},"legend":{"title":"Specie","orient":"none","legendX":1491,"legendY":877,"labelExpr":"datum.label=='F' ? 'Full network' : datum.label=='B' ? 'Bovine' : datum.label=='S' ? 'Swine' : 'Small ruminants'"}}
   },
   "layer":[{"mark":{"type":"line","strokeWidth":5,"opacity":0.7}},{"mark":{"type":"circle","size":36,"opacity":1}}]}
 ],"spacing":0,"bounds":"flush"},
 {"vconcat":[
  {"data":{"values":[{"t":"Animals"}]},"width":676,"height":44,"view":{"fill":"#d9d9d9","stroke":"#333333","strokeWidth":1.5},"mark":{"type":"text","fontSize":30,"fontWeight":"bold","font":"Liberation Sans","color":"#1a1a1a"},"encoding":{"text":{"field":"t"}}},
  {"data":{"name":"animals"},"transform":[{"fold":["F","B","S","R"],"as":["k","v"]}],"width":676,"height":294,
   "encoding":{
    "x":{"field":"d","type":"temporal","title":null,"scale":{"type":"utc","domain":[{"year":2014,"month":10,"date":21,"utc":true},{"year":2019,"month":2,"date":11,"utc":true}]},"axis":{"values":[{"year":2015,"month":1,"date":1,"utc":true},{"year":2015,"month":7,"date":1,"utc":true},{"year":2016,"month":1,"date":1,"utc":true},{"year":2016,"month":7,"date":1,"utc":true},{"year":2017,"month":1,"date":1,"utc":true},{"year":2017,"month":7,"date":1,"utc":true},{"year":2018,"month":1,"date":1,"utc":true},{"year":2018,"month":7,"date":1,"utc":true},{"year":2019,"month":1,"date":1,"utc":true}],"labelExpr":"utcmonth(datum.value)==0 ? utcFormat(datum.value,'%Y') : ''","gridWidth":{"condition":{"test":"utcmonth(datum.value)==0","value":1.6},"value":0.8},"tickOpacity":{"condition":{"test":"utcmonth(datum.value)==0","value":1},"value":0},"labelPadding":2}},
    "y":{"field":"v","type":"quantitative","title":"value","scale":{"domain":[-88000,2288000],"nice":false,"zero":false},"axis":{"titlePadding":7,"values":[0,250000,500000,750000,1000000,1250000,1500000,1750000,2000000,2250000],"labelExpr":"datum.value % 500000 == 0 ? format(datum.value,'d') : ''","gridWidth":{"condition":{"test":"datum.value % 500000 == 0","value":1.6},"value":0.8},"tickOpacity":{"condition":{"test":"datum.value % 500000 == 0","value":1},"value":0}}},
    "color":{"field":"k","type":"nominal","scale":{"domain":["F","B","S","R"],"range":["#D8BE7C","#6E8A62","#274B77","#C53E17"]},"legend":{"title":"Specie","orient":"none","legendX":1491,"legendY":877,"labelExpr":"datum.label=='F' ? 'Full network' : datum.label=='B' ? 'Bovine' : datum.label=='S' ? 'Swine' : 'Small ruminants'"}}
   },
   "layer":[{"mark":{"type":"line","strokeWidth":5,"opacity":0.7}},{"mark":{"type":"circle","size":36,"opacity":1}}]}
 ],"spacing":0,"bounds":"flush"},
 {"vconcat":[
  {"data":{"values":[{"t":"Mean betweenness"}]},"width":676,"height":44,"view":{"fill":"#d9d9d9","stroke":"#333333","strokeWidth":1.5},"mark":{"type":"text","fontSize":30,"fontWeight":"bold","font":"Liberation Sans","color":"#1a1a1a"},"encoding":{"text":{"field":"t"}}},
  {"data":{"name":"mb"},"transform":[{"fold":["F","B","S","R"],"as":["k","v"]}],"width":676,"height":294,
   "encoding":{
    "x":{"field":"d","type":"temporal","title":null,"scale":{"type":"utc","domain":[{"year":2014,"month":10,"date":21,"utc":true},{"year":2019,"month":2,"date":11,"utc":true}]},"axis":{"values":[{"year":2015,"month":1,"date":1,"utc":true},{"year":2015,"month":7,"date":1,"utc":true},{"year":2016,"month":1,"date":1,"utc":true},{"year":2016,"month":7,"date":1,"utc":true},{"year":2017,"month":1,"date":1,"utc":true},{"year":2017,"month":7,"date":1,"utc":true},{"year":2018,"month":1,"date":1,"utc":true},{"year":2018,"month":7,"date":1,"utc":true},{"year":2019,"month":1,"date":1,"utc":true}],"labelExpr":"utcmonth(datum.value)==0 ? utcFormat(datum.value,'%Y') : ''","gridWidth":{"condition":{"test":"utcmonth(datum.value)==0","value":1.6},"value":0.8},"tickOpacity":{"condition":{"test":"utcmonth(datum.value)==0","value":1},"value":0},"labelPadding":2}},
    "y":{"field":"v","type":"quantitative","title":null,"scale":{"domain":[-26,553],"nice":false,"zero":false},"axis":{"values":[0,100,200,300,400,500],"labelExpr":"datum.value % 200 == 0 ? format(datum.value,'d') : ''","gridWidth":{"condition":{"test":"datum.value % 200 == 0","value":1.6},"value":0.8},"tickOpacity":{"condition":{"test":"datum.value % 200 == 0","value":1},"value":0}}},
    "color":{"field":"k","type":"nominal","scale":{"domain":["F","B","S","R"],"range":["#D8BE7C","#6E8A62","#274B77","#C53E17"]},"legend":{"title":"Specie","orient":"none","legendX":1491,"legendY":877,"labelExpr":"datum.label=='F' ? 'Full network' : datum.label=='B' ? 'Bovine' : datum.label=='S' ? 'Swine' : 'Small ruminants'"}}
   },
   "layer":[{"mark":{"type":"line","strokeWidth":5,"opacity":0.7}},{"mark":{"type":"circle","size":36,"opacity":1}}]}
 ],"spacing":0,"bounds":"flush"},
 {"vconcat":[
  {"data":{"values":[{"t":"Clustering coefficient"}]},"width":676,"height":44,"view":{"fill":"#d9d9d9","stroke":"#333333","strokeWidth":1.5},"mark":{"type":"text","fontSize":30,"fontWeight":"bold","font":"Liberation Sans","color":"#1a1a1a"},"encoding":{"text":{"field":"t"}}},
  {"data":{"name":"cc"},"transform":[{"fold":["F","B","S","R"],"as":["k","v"]}],"width":676,"height":294,
   "encoding":{
    "x":{"field":"d","type":"temporal","title":null,"scale":{"type":"utc","domain":[{"year":2014,"month":10,"date":21,"utc":true},{"year":2019,"month":2,"date":11,"utc":true}]},"axis":{"values":[{"year":2015,"month":1,"date":1,"utc":true},{"year":2015,"month":7,"date":1,"utc":true},{"year":2016,"month":1,"date":1,"utc":true},{"year":2016,"month":7,"date":1,"utc":true},{"year":2017,"month":1,"date":1,"utc":true},{"year":2017,"month":7,"date":1,"utc":true},{"year":2018,"month":1,"date":1,"utc":true},{"year":2018,"month":7,"date":1,"utc":true},{"year":2019,"month":1,"date":1,"utc":true}],"labelExpr":"utcmonth(datum.value)==0 ? utcFormat(datum.value,'%Y') : ''","gridWidth":{"condition":{"test":"utcmonth(datum.value)==0","value":1.6},"value":0.8},"tickOpacity":{"condition":{"test":"utcmonth(datum.value)==0","value":1},"value":0},"labelPadding":2}},
    "y":{"field":"v","type":"quantitative","title":null,"scale":{"domain":[-0.00164,0.0343],"nice":false,"zero":false},"axis":{"values":[0,0.005,0.01,0.015,0.02,0.025,0.03],"labelExpr":"abs(datum.value*100-round(datum.value*100))<1e-6 ? format(datum.value,'.2f') : ''","gridWidth":{"condition":{"test":"abs(datum.value*100-round(datum.value*100))<1e-6","value":1.6},"value":0.8},"tickOpacity":{"condition":{"test":"abs(datum.value*100-round(datum.value*100))<1e-6","value":1},"value":0}}},
    "color":{"field":"k","type":"nominal","scale":{"domain":["F","B","S","R"],"range":["#D8BE7C","#6E8A62","#274B77","#C53E17"]},"legend":{"title":"Specie","orient":"none","legendX":1491,"legendY":877,"labelExpr":"datum.label=='F' ? 'Full network' : datum.label=='B' ? 'Bovine' : datum.label=='S' ? 'Swine' : 'Small ruminants'"}}
   },
   "layer":[{"mark":{"type":"line","strokeWidth":5,"opacity":0.7}},{"mark":{"type":"circle","size":36,"opacity":1}}]}
 ],"spacing":0,"bounds":"flush"},
 {"vconcat":[
  {"data":{"values":[{"t":"Centralization"}]},"width":676,"height":44,"view":{"fill":"#d9d9d9","stroke":"#333333","strokeWidth":1.5},"mark":{"type":"text","fontSize":30,"fontWeight":"bold","font":"Liberation Sans","color":"#1a1a1a"},"encoding":{"text":{"field":"t"}}},
  {"data":{"name":"cent"},"transform":[{"fold":["F","B","S","R"],"as":["k","v"]}],"width":676,"height":294,
   "encoding":{
    "x":{"field":"d","type":"temporal","title":null,"scale":{"type":"utc","domain":[{"year":2014,"month":10,"date":21,"utc":true},{"year":2019,"month":2,"date":11,"utc":true}]},"axis":{"values":[{"year":2015,"month":1,"date":1,"utc":true},{"year":2015,"month":7,"date":1,"utc":true},{"year":2016,"month":1,"date":1,"utc":true},{"year":2016,"month":7,"date":1,"utc":true},{"year":2017,"month":1,"date":1,"utc":true},{"year":2017,"month":7,"date":1,"utc":true},{"year":2018,"month":1,"date":1,"utc":true},{"year":2018,"month":7,"date":1,"utc":true},{"year":2019,"month":1,"date":1,"utc":true}],"labelExpr":"utcmonth(datum.value)==0 ? utcFormat(datum.value,'%Y') : ''","gridWidth":{"condition":{"test":"utcmonth(datum.value)==0","value":1.6},"value":0.8},"tickOpacity":{"condition":{"test":"utcmonth(datum.value)==0","value":1},"value":0},"labelPadding":2}},
    "y":{"field":"v","type":"quantitative","title":null,"scale":{"domain":[-0.0007,0.0344],"nice":false,"zero":false},"axis":{"values":[0,0.005,0.01,0.015,0.02,0.025,0.03],"labelExpr":"abs(datum.value*100-round(datum.value*100))<1e-6 ? format(datum.value,'.2f') : ''","gridWidth":{"condition":{"test":"abs(datum.value*100-round(datum.value*100))<1e-6","value":1.6},"value":0.8},"tickOpacity":{"condition":{"test":"abs(datum.value*100-round(datum.value*100))<1e-6","value":1},"value":0}}},
    "color":{"field":"k","type":"nominal","scale":{"domain":["F","B","S","R"],"range":["#D8BE7C","#6E8A62","#274B77","#C53E17"]},"legend":{"title":"Specie","orient":"none","legendX":1491,"legendY":877,"labelExpr":"datum.label=='F' ? 'Full network' : datum.label=='B' ? 'Bovine' : datum.label=='S' ? 'Swine' : 'Small ruminants'"}}
   },
   "layer":[{"mark":{"type":"line","strokeWidth":5,"opacity":0.7}},{"mark":{"type":"circle","size":36,"opacity":1}}]}
 ],"spacing":0,"bounds":"flush"},
 {"vconcat":[
  {"data":{"values":[{"t":"GSCC %"}]},"width":676,"height":44,"view":{"fill":"#d9d9d9","stroke":"#333333","strokeWidth":1.5},"mark":{"type":"text","fontSize":30,"fontWeight":"bold","font":"Liberation Sans","color":"#1a1a1a"},"encoding":{"text":{"field":"t"}}},
  {"data":{"name":"gscc"},"transform":[{"fold":["F","B","S","R"],"as":["k","v"]}],"width":676,"height":294,
   "encoding":{
    "x":{"field":"d","type":"temporal","title":null,"scale":{"type":"utc","domain":[{"year":2014,"month":10,"date":21,"utc":true},{"year":2019,"month":2,"date":11,"utc":true}]},"axis":{"values":[{"year":2015,"month":1,"date":1,"utc":true},{"year":2015,"month":7,"date":1,"utc":true},{"year":2016,"month":1,"date":1,"utc":true},{"year":2016,"month":7,"date":1,"utc":true},{"year":2017,"month":1,"date":1,"utc":true},{"year":2017,"month":7,"date":1,"utc":true},{"year":2018,"month":1,"date":1,"utc":true},{"year":2018,"month":7,"date":1,"utc":true},{"year":2019,"month":1,"date":1,"utc":true}],"labelExpr":"utcmonth(datum.value)==0 ? utcFormat(datum.value,'%Y') : ''","gridWidth":{"condition":{"test":"utcmonth(datum.value)==0","value":1.6},"value":0.8},"tickOpacity":{"condition":{"test":"utcmonth(datum.value)==0","value":1},"value":0},"labelPadding":2}},
    "y":{"field":"v","type":"quantitative","title":null,"scale":{"domain":[-0.015,0.375],"nice":false,"zero":false},"axis":{"values":[0,0.05,0.1,0.15,0.2,0.25,0.3,0.35],"labelExpr":"abs(datum.value*10-round(datum.value*10))<1e-6 ? (datum.value==0 ? '0%' : format(datum.value,'.1f')+'%') : ''","gridWidth":{"condition":{"test":"abs(datum.value*10-round(datum.value*10))<1e-6","value":1.6},"value":0.8},"tickOpacity":{"condition":{"test":"abs(datum.value*10-round(datum.value*10))<1e-6","value":1},"value":0}}},
    "color":{"field":"k","type":"nominal","scale":{"domain":["F","B","S","R"],"range":["#D8BE7C","#6E8A62","#274B77","#C53E17"]},"legend":{"title":"Specie","orient":"none","legendX":1491,"legendY":877,"labelExpr":"datum.label=='F' ? 'Full network' : datum.label=='B' ? 'Bovine' : datum.label=='S' ? 'Swine' : 'Small ruminants'"}}
   },
   "layer":[{"mark":{"type":"line","strokeWidth":5,"opacity":0.7}},{"mark":{"type":"circle","size":36,"opacity":1}}]}
 ],"spacing":0,"bounds":"flush"},
 {"vconcat":[
  {"data":{"values":[{"t":"GWCC %"}]},"width":676,"height":44,"view":{"fill":"#d9d9d9","stroke":"#333333","strokeWidth":1.5},"mark":{"type":"text","fontSize":30,"fontWeight":"bold","font":"Liberation Sans","color":"#1a1a1a"},"encoding":{"text":{"field":"t"}}},
  {"data":{"name":"gwcc"},"transform":[{"fold":["F","B","S","R"],"as":["k","v"]}],"width":676,"height":294,
   "encoding":{
    "x":{"field":"d","type":"temporal","title":null,"scale":{"type":"utc","domain":[{"year":2014,"month":10,"date":21,"utc":true},{"year":2019,"month":2,"date":11,"utc":true}]},"axis":{"values":[{"year":2015,"month":1,"date":1,"utc":true},{"year":2015,"month":7,"date":1,"utc":true},{"year":2016,"month":1,"date":1,"utc":true},{"year":2016,"month":7,"date":1,"utc":true},{"year":2017,"month":1,"date":1,"utc":true},{"year":2017,"month":7,"date":1,"utc":true},{"year":2018,"month":1,"date":1,"utc":true},{"year":2018,"month":7,"date":1,"utc":true},{"year":2019,"month":1,"date":1,"utc":true}],"labelExpr":"utcmonth(datum.value)==0 ? utcFormat(datum.value,'%Y') : ''","gridWidth":{"condition":{"test":"utcmonth(datum.value)==0","value":1.6},"value":0.8},"tickOpacity":{"condition":{"test":"utcmonth(datum.value)==0","value":1},"value":0},"labelPadding":2}},
    "y":{"field":"v","type":"quantitative","title":null,"scale":{"domain":[-0.8,17.4],"nice":false,"zero":false},"axis":{"values":[0,2.5,5,7.5,10,12.5,15],"labelExpr":"datum.value % 5 == 0 ? format(datum.value,'d')+'%' : ''","gridWidth":{"condition":{"test":"datum.value % 5 == 0","value":1.6},"value":0.8},"tickOpacity":{"condition":{"test":"datum.value % 5 == 0","value":1},"value":0}}},
    "color":{"field":"k","type":"nominal","scale":{"domain":["F","B","S","R"],"range":["#D8BE7C","#6E8A62","#274B77","#C53E17"]},"legend":{"title":"Specie","orient":"none","legendX":1491,"legendY":877,"labelExpr":"datum.label=='F' ? 'Full network' : datum.label=='B' ? 'Bovine' : datum.label=='S' ? 'Swine' : 'Small ruminants'"}}
   },
   "layer":[{"mark":{"type":"line","strokeWidth":5,"opacity":0.7}},{"mark":{"type":"circle","size":36,"opacity":1}}]}
 ],"spacing":0,"bounds":"flush"}
]
}
